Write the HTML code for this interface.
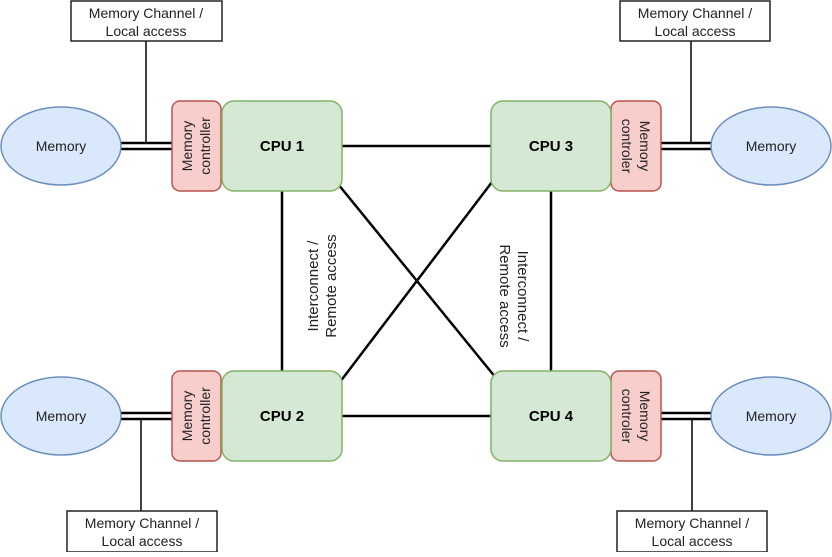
<!DOCTYPE html>
<html><head><style>
body{margin:0;background:#fff}
svg text{font-family:"Liberation Sans",sans-serif;font-size:14px;fill:#222}
</style></head><body>
<svg width="832" height="552" viewBox="0 0 832 552" xmlns="http://www.w3.org/2000/svg">
<g stroke="#000" stroke-width="2.5" fill="none">
<line x1="342" y1="146" x2="491" y2="146"/>
<line x1="342" y1="416" x2="491" y2="416"/>
<line x1="282" y1="191" x2="282" y2="371"/>
<line x1="551" y1="191" x2="551" y2="371"/>
<line x1="338" y1="184" x2="496" y2="378"/>
<line x1="492" y1="182" x2="340" y2="382"/>
<line x1="121" y1="143" x2="172" y2="143"/><line x1="121" y1="149" x2="172" y2="149"/>
<line x1="121" y1="413" x2="172" y2="413"/><line x1="121" y1="419" x2="172" y2="419"/>
<line x1="661" y1="143" x2="711" y2="143"/><line x1="661" y1="149" x2="711" y2="149"/>
<line x1="661" y1="413" x2="711" y2="413"/><line x1="661" y1="419" x2="711" y2="419"/>
</g>
<g stroke="#000" stroke-width="1.5">
<line x1="146" y1="41" x2="146" y2="143"/>
<line x1="691" y1="41" x2="691" y2="143"/>
<line x1="141" y1="419" x2="141" y2="511"/>
<line x1="692" y1="419" x2="692" y2="511"/>
</g>
<g fill="#fff" stroke="#222" stroke-width="1.5">
<rect x="71" y="1" width="151" height="40"/>
<rect x="620" y="1" width="150" height="40"/>
<rect x="67" y="511" width="150" height="41"/>
<rect x="617" y="511" width="150" height="41"/>
</g>
<g text-anchor="middle">
<text x="146" y="18">Memory Channel /</text><text x="146" y="36">Local access</text>
<text x="695" y="18">Memory Channel /</text><text x="695" y="36">Local access</text>
<text x="142" y="528">Memory Channel /</text><text x="142" y="546">Local access</text>
<text x="692" y="528">Memory Channel /</text><text x="692" y="546">Local access</text>
</g>
<g fill="#dae8fc" stroke="#6c8ebf" stroke-width="1.5">
<ellipse cx="61" cy="146" rx="60" ry="39"/>
<ellipse cx="61" cy="416" rx="60" ry="39"/>
<ellipse cx="771" cy="146" rx="60" ry="39"/>
<ellipse cx="771" cy="416" rx="60" ry="39"/>
</g>
<g text-anchor="middle">
<text x="61" y="151">Memory</text><text x="61" y="421">Memory</text>
<text x="771" y="151">Memory</text><text x="771" y="421">Memory</text>
</g>
<g fill="#f8cecc" stroke="#b85450" stroke-width="1.5">
<rect x="172" y="101" width="49" height="90" rx="8"/>
<rect x="172" y="371" width="49" height="90" rx="8"/>
<rect x="611" y="101" width="50" height="90" rx="8"/>
<rect x="611" y="371" width="50" height="90" rx="8"/>
</g>
<g fill="#d5e8d4" stroke="#82b366" stroke-width="1.5">
<rect x="222" y="101" width="120" height="90" rx="12"/>
<rect x="222" y="371" width="120" height="90" rx="12"/>
<rect x="491" y="101" width="120" height="90" rx="12"/>
<rect x="491" y="371" width="120" height="90" rx="12"/>
</g>
<g text-anchor="middle" style="font-weight:bold;font-size:15px">
<text x="282" y="151" style="font-weight:bold;font-size:15px;fill:#000">CPU 1</text>
<text x="282" y="421" style="font-weight:bold;font-size:15px;fill:#000">CPU 2</text>
<text x="551" y="151" style="font-weight:bold;font-size:15px;fill:#000">CPU 3</text>
<text x="551" y="421" style="font-weight:bold;font-size:15px;fill:#000">CPU 4</text>
</g>
<g text-anchor="middle">
<text transform="translate(196,146) rotate(-90)"><tspan x="0" y="-4">Memory</tspan><tspan x="0" y="14">controller</tspan></text>
<text transform="translate(196,416) rotate(-90)"><tspan x="0" y="-4">Memory</tspan><tspan x="0" y="14">controller</tspan></text>
<text transform="translate(636,146) rotate(90)"><tspan x="0" y="-4">Memory</tspan><tspan x="0" y="14">controler</tspan></text>
<text transform="translate(636,416) rotate(90)"><tspan x="0" y="-4">Memory</tspan><tspan x="0" y="14">controler</tspan></text>
<text transform="translate(322,286) rotate(-90)" style="font-size:15px"><tspan x="0" y="-4">Interconnect /</tspan><tspan x="0" y="14">Remote access</tspan></text>
<text transform="translate(514,296) rotate(90)" style="font-size:15px"><tspan x="0" y="-4">Interconnect /</tspan><tspan x="0" y="14">Remote access</tspan></text>
</g>
</svg>
</body></html>
